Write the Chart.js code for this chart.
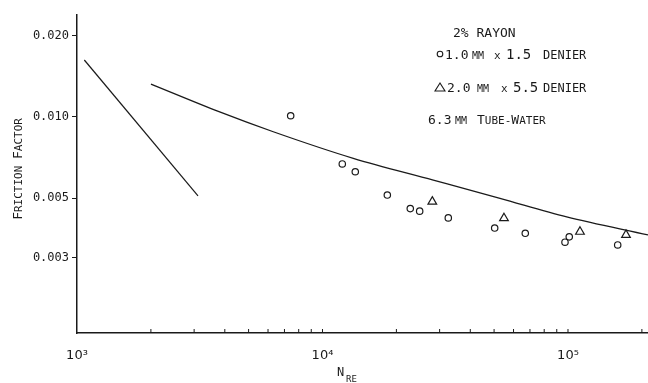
<!DOCTYPE html>
<html>
<head>
<meta charset="utf-8">
<script src="https://cdn.jsdelivr.net/npm/chart.js@4.4.1/dist/chart.umd.min.js"></script>
<style>
  html, body { margin: 0; padding: 0; background: #fff; }
  #wrap { width: 648px; height: 383px; position: relative; }
</style>
</head>
<body>
<div id="wrap"><canvas id="chart"></canvas></div>
<script>
'use strict';

// 1.0 mm x 1.5 denier (circles)
var reCircle = [7420, 12040, 13600, 18370, 22780, 24880, 32540, 50280, 66990, 97230, 101200, 159400];
var fCircle  = [0.01010, 0.00669, 0.00626, 0.00513, 0.00457, 0.00447, 0.00422, 0.00387, 0.00370, 0.00343, 0.00359, 0.00335];

// 2.0 mm x 5.5 denier (triangles)
var reTri = [28010, 54860, 111900, 172300];
var fTri  = [0.00485, 0.00421, 0.00375, 0.00365];

// 6.3 mm tube - water curve
var reWater = [2001, 3788, 6302, 13350, 28270, 52840, 98790, 211800];
var fWater  = [0.01324, 0.01046, 0.00881, 0.00702, 0.00583, 0.00499, 0.00426, 0.00365];

// laminar line
var reLam = [1071, 3111];
var fLam  = [0.01626, 0.00509];

var yTicks = [0.003, 0.005, 0.010, 0.020];
var xLabels = { 1000: '10³', 10000: '10⁴', 100000: '10⁵' };

var X_MIN = 1000, X_MAX = 211800;
var Y_MIN = 0.001579, Y_MAX = 0.02388;

var ink = '#1a1a1a';
var SANS = "'DejaVu Sans', sans-serif";
var MONO = "'DejaVu Sans Mono', monospace";

function pts(xs, ys) {
  return xs.map(function(x, i) { return { x: x, y: ys[i] }; });
}

// each part: [text, x, size]
function placed(ctx, y, parts) {
  parts.forEach(function(p) {
    ctx.font = p[2] + 'px ' + MONO;
    ctx.fillText(p[0], p[1], y);
  });
}

// run of mixed-size text (small caps look)
function rich(ctx, x, y, parts) {
  parts.forEach(function(p) {
    ctx.font = p[1] + 'px ' + MONO;
    ctx.fillText(p[0], x, y);
    x += ctx.measureText(p[0]).width;
  });
}

var annotate = {
  id: 'annotate',
  afterDraw: function(chart) {
    var ctx = chart.ctx;
    var xs = chart.scales.x;
    var area = chart.chartArea;
    ctx.save();
    // inward minor ticks on the x axis
    ctx.strokeStyle = ink;
    ctx.lineWidth = 1;
    xs.ticks.forEach(function(t) {
      var px = xs.getPixelForValue(t.value);
      if (px < area.left + 1 || px > area.right) return;
      ctx.beginPath();
      ctx.moveTo(px, area.bottom);
      ctx.lineTo(px, area.bottom - 4);
      ctx.stroke();
    });

    ctx.fillStyle = ink;
    ctx.textBaseline = 'alphabetic';
    ctx.textAlign = 'left';
    placed(ctx, 37, [['2% RAYON', 453, 13]]);

    ctx.lineWidth = 1.1;
    ctx.beginPath();
    ctx.arc(440, 54, 2.8, 0, Math.PI * 2);
    ctx.stroke();
    placed(ctx, 59, [['1.0', 445, 13], ['MM', 472, 10], ['x', 494, 11], ['1.5', 506, 14], ['DENIER', 543, 12]]);

    ctx.beginPath();
    ctx.moveTo(435, 91); ctx.lineTo(445, 91); ctx.lineTo(440, 83); ctx.closePath();
    ctx.stroke();
    placed(ctx, 92, [['2.0', 447, 13], ['MM', 477, 10], ['x', 501, 11], ['5.5', 513, 14], ['DENIER', 543, 12]]);

    placed(ctx, 124, [['6.3', 428, 13], ['MM', 455, 10]]);
    rich(ctx, 477, 124, [['T', 13], ['UBE-', 11], ['W', 13], ['ATER', 11]]);

    // x title
    rich(ctx, 337, 376, [['N', 12]]);
    rich(ctx, 346, 382, [['RE', 9]]);

    // y title
    ctx.translate(22, 169);
    ctx.rotate(-Math.PI / 2);
    var parts = [['F', 13], ['RICTION ', 11], ['F', 13], ['ACTOR', 11]];
    var w = 0;
    parts.forEach(function(p) { ctx.font = p[1] + 'px ' + MONO; w += ctx.measureText(p[0]).width; });
    rich(ctx, -w / 2, 0, parts);
    ctx.restore();
  }
};

new Chart(document.getElementById('chart'), {
  type: 'scatter',
  data: {
    datasets: [
      {
        label: '1.0 mm x 1.5 denier',
        data: pts(reCircle, fCircle),
        pointStyle: 'circle',
        pointRadius: 3.2,
        pointBorderWidth: 1.2,
        borderColor: ink,
        backgroundColor: 'rgba(255,255,255,0)'
      },
      {
        label: '2.0 mm x 5.5 denier',
        data: pts(reTri, fTri),
        pointStyle: 'triangle',
        pointRadius: 5,
        pointBorderWidth: 1.2,
        borderColor: ink,
        backgroundColor: 'rgba(255,255,255,0)'
      },
      {
        label: '6.3 mm Tube-Water',
        type: 'line',
        data: pts(reWater, fWater),
        showLine: true,
        borderColor: ink,
        borderWidth: 1.3,
        pointRadius: 0,
        cubicInterpolationMode: 'monotone',
        fill: false
      },
      {
        label: 'laminar',
        type: 'line',
        data: pts(reLam, fLam),
        showLine: true,
        borderColor: ink,
        borderWidth: 1.2,
        pointRadius: 0,
        fill: false
      }
    ]
  },
  options: {
    responsive: true,
    maintainAspectRatio: false,
    animation: false,
    layout: { autoPadding: false, padding: { top: 15, right: 0, left: 0, bottom: 0 } },
    plugins: {
      legend: { display: false },
      tooltip: { enabled: false }
    },
    scales: {
      x: {
        type: 'logarithmic',
        min: X_MIN,
        max: X_MAX,
        afterFit: function(s) { s.height = 50; },
        afterBuildTicks: function(s) {
          var t = [];
          [1000, 10000, 100000].forEach(function(d) {
            for (var k = 1; k <= 9; k++) if (d * k <= X_MAX) t.push({ value: d * k });
          });
          s.ticks = t;
        },
        grid: { display: false, drawTicks: true, tickLength: 14 },
        border: { display: true, color: ink, width: 1.5 },
        ticks: {
          autoSkip: false,
          maxRotation: 0,
          padding: 1,
          color: ink,
          font: { family: SANS, size: 13 },
          callback: function(v) { return xLabels[v] || ''; }
        }
      },
      y: {
        type: 'logarithmic',
        min: Y_MIN,
        max: Y_MAX,
        afterFit: function(s) { s.width = 77; },
        afterBuildTicks: function(s) {
          s.ticks = yTicks.map(function(v) { return { value: v }; });
        },
        grid: { drawOnChartArea: false, drawTicks: true, tickLength: 5, color: ink },
        border: { display: true, color: ink, width: 1.5 },
        ticks: {
          autoSkip: false,
          padding: 3,
          color: ink,
          font: { family: MONO, size: 12 },
          callback: function(v) { return Number(v).toFixed(3); }
        }
      }
    }
  },
  plugins: [annotate]
});
</script>
</body>
</html>
